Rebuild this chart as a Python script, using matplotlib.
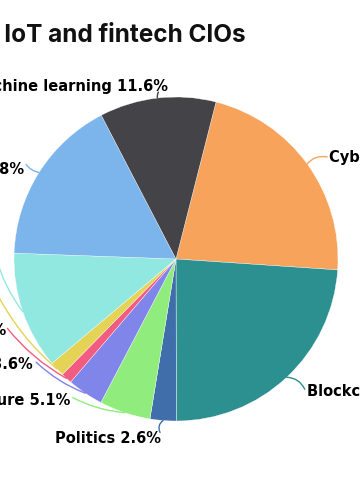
import numpy as np
import matplotlib
matplotlib.use("Agg")
import matplotlib.pyplot as plt

# slices, clockwise from the top-right
topics = ["Cybersecurity", "Blockchain", "Politics", "Infrastructure",
          "Quantum computing", "Robotics", "Drones", "Cloud computing",
          "Artificial intelligence", "Machine learning"]
shares = [22.1, 23.9, 2.6, 5.1, 3.6, 1.1, 1.5, 11.7, 16.8, 11.6]
colors = ["#f7a35c", "#2b908f", "#3f6eab", "#90ed7d", "#8085e9",
          "#f15c80", "#e4d354", "#91e8e1", "#7cb5ec", "#434348"]
title = "Top tech trends for AI, IoT and fintech CIOs"

W, H = 360, 500
fig = plt.figure(figsize=(W / 100, H / 100), dpi=100)
ax = fig.add_axes([0, 0, 1, 1])

cx, cy, R = 176, H - 259, 162
wedges, _ = ax.pie(shares, colors=colors, radius=R, center=(cx, cy),
                   startangle=90 - 14.3, counterclock=False, frame=True,
                   wedgeprops=dict(edgecolor="white", linewidth=0.25))
ax.set_xlim(0, W)
ax.set_ylim(0, H)
ax.set_aspect("equal")
ax.axis("off")

# label layout: connector end and text anchor, offsets in px from slice edge
conn_off = [(20, -7), (18, 12), (-3, 12), (-52, -15), (-49, -31),
            (-59, -50), (-62, -79), (-27, -55), (-13, -8), (1, -6)]
text_off = [(22, -6, "left"), (20, 14, "left"), (-2, 18, "right"),
            (-54, -12, "right"), (-52, -29, "right"), (-60, -48, "right"),
            (-64, -79, "right"), (-29, -55, "right"), (-15, -3, "right"),
            (11, -12, "right")]
curv = [0.3, 0.3, -0.4, 0.1, 0.1, 0.1, 0.1, 0.1, 0.2, 0.2]

for w, name, val, col, co, to, rad in zip(wedges, topics, shares, colors,
                                            conn_off, text_off, curv):
    mid = np.deg2rad((w.theta1 + w.theta2) / 2)
    ex, ey = cx + R * np.cos(mid), cy + R * np.sin(mid)
    ax.annotate("", xy=(ex, ey), xytext=(ex + co[0], ey - co[1]),
                arrowprops=dict(arrowstyle="-", color=col, lw=1,
                                shrinkA=0, shrinkB=0,
                                connectionstyle=f"arc3,rad={rad}"))
    ax.text(ex + to[0], ey - to[1], f"{name} {val}%", ha=to[2], va="center",
            fontsize=10.5, fontweight="bold", color="#000000",
            family="DejaVu Sans")

fig.text(246 / W, 1 - 34 / H, title, ha="right", va="center",
         fontsize=17.5, fontweight="bold", color="#111111", family="Inter")

fig.savefig("out.png", dpi=100, facecolor="white")
